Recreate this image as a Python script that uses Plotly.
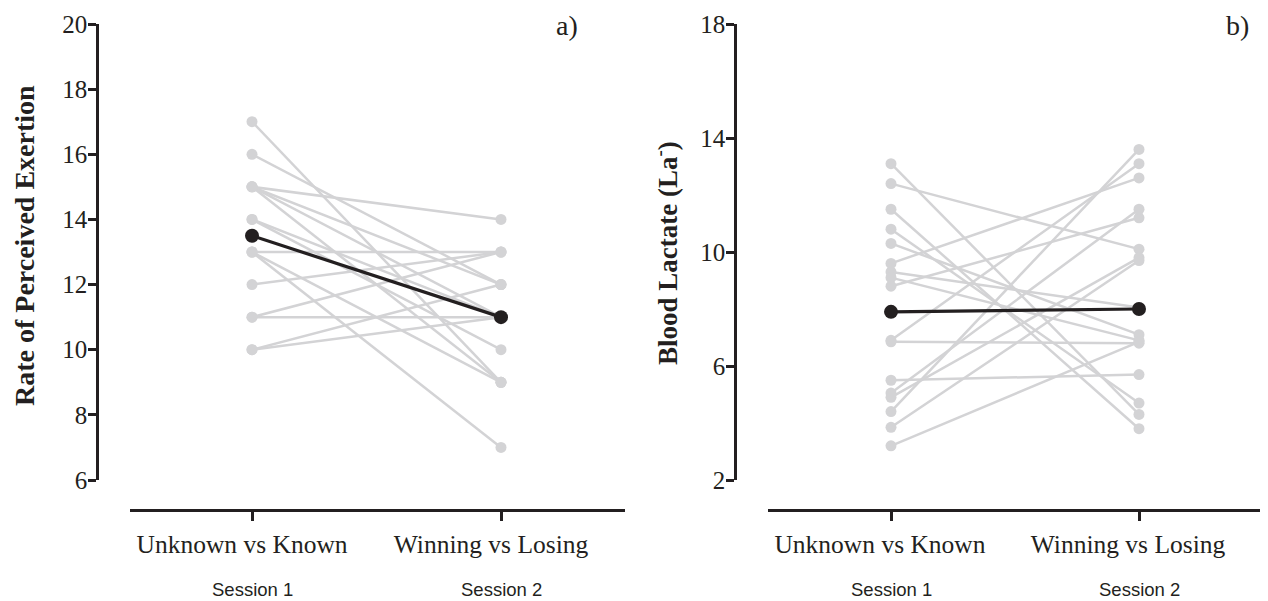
import plotly.graph_objects as go

# ---------------- data ----------------
categories = ["Unknown vs Known", "Winning vs Losing"]
sessions = ["Session 1", "Session 2"]

# panel a) Rate of Perceived Exertion, one entry per participant
rpe_s1 = [17, 16, 15, 15, 15, 15, 14, 14, 13, 13, 13, 12, 11, 11, 10, 10]
rpe_s2 = [9, 12, 14, 12, 11, 9, 11, 10, 13, 9, 7, 13, 11, 13, 12, 11]
rpe_mean = [13.5, 11.0]

# panel b) Blood lactate, one entry per participant
la_s1 = [13.1, 12.4, 11.5, 10.8, 10.3, 9.6, 9.3, 9.1, 8.8, 6.9, 6.85, 5.5, 5.05, 4.9, 4.4, 3.85, 3.2]
la_s2 = [4.3, 10.1, 3.8, 4.7, 7.1, 12.6, 8.05, 6.9, 11.2, 13.1, 6.8, 5.7, 11.5, 9.8, 13.6, 9.7, 6.85]
la_mean = [7.9, 8.0]

rpe_ticks = [6, 8, 10, 12, 14, 16, 18, 20]
la_ticks = [2, 6, 10, 14, 18]

# ---------------- style ----------------
OFF = 8                      # page body margin of the browser
W, H = 1268 - OFF, 601 - OFF
DARK = "#231f20"
GREY = "#d3d3d5"
SERIF = "Liberation Serif"
SANS = "Liberation Sans"


def px_x(p):
    return (p - OFF) / W


def px_y(p):
    return 1 - (p - OFF) / H


def paired(s1, s2):
    xs, ys = [], []
    for a, b in zip(s1, s2):
        xs += [0, 1, None]
        ys += [a, b, None]
    return xs, ys


fig = go.Figure()

for s1, s2, mean, xa, ya in [
    (rpe_s1, rpe_s2, rpe_mean, "x", "y"),
    (la_s1, la_s2, la_mean, "x2", "y2"),
]:
    xs, ys = paired(s1, s2)
    fig.add_trace(go.Scatter(
        x=xs, y=ys, mode="lines+markers", xaxis=xa, yaxis=ya,
        line=dict(color=GREY, width=2.5),
        marker=dict(color=GREY, size=11),
        showlegend=False, hoverinfo="skip", cliponaxis=False,
    ))
    fig.add_trace(go.Scatter(
        x=[0, 1], y=mean, mode="lines+markers", xaxis=xa, yaxis=ya,
        line=dict(color=DARK, width=3.2),
        marker=dict(color=DARK, size=14),
        showlegend=False, cliponaxis=False,
    ))

axis_common = dict(
    showline=True, linecolor=DARK, linewidth=2.5,
    ticks="outside", tickcolor=DARK, tickwidth=2.5,
    showgrid=False, zeroline=False, automargin=False,
)

xfont = dict(family=SERIF, size=25.5, color=DARK)
yfont = dict(family=SERIF, size=25, color=DARK)

fig.update_layout(
    width=W, height=H,
    margin=dict(l=0, r=0, t=0, b=0, pad=0, autoexpand=False),
    paper_bgcolor="white", plot_bgcolor="white",
    xaxis=dict(
        domain=[px_x(130), px_x(625)], anchor="free", position=px_y(510),
        range=[-0.49, 1.498], tickvals=[0, 1], ticktext=categories,
        ticklen=9, tickfont=xfont, ticklabelstandoff=2, ticklabelshift=-10,
        **axis_common,
    ),
    yaxis=dict(
        domain=[px_y(480), px_y(24)], anchor="free", position=px_x(97),
        range=[6, 20], tickvals=rpe_ticks, ticklen=8, tickfont=yfont,
        ticklabelstandoff=-4, **axis_common,
    ),
    xaxis2=dict(
        domain=[px_x(768), px_x(1262)], anchor="free", position=px_y(510),
        range=[-0.496, 1.496], tickvals=[0, 1], ticktext=categories,
        ticklen=9, tickfont=xfont, ticklabelstandoff=2, ticklabelshift=-11,
        **axis_common,
    ),
    yaxis2=dict(
        domain=[px_y(480), px_y(24)], anchor="free", position=px_x(735),
        range=[2, 18], tickvals=la_ticks, ticklen=8, tickfont=yfont,
        ticklabelstandoff=-4, **axis_common,
    ),
)

annotations = [
    dict(text="Rate of Perceived Exertion", x=px_x(24), y=px_y(246), xref="paper", yref="paper",
         textangle=-90, showarrow=False, xanchor="center", yanchor="middle",
         font=dict(family=SERIF, size=28, color=DARK, weight="bold")),
    dict(text="Blood Lactate (La<sup>-</sup>)", x=px_x(666), y=px_y(253), xref="paper", yref="paper",
         textangle=-90, showarrow=False, xanchor="center", yanchor="middle",
         font=dict(family=SERIF, size=27, color=DARK, weight="bold")),
    dict(text="a)", x=px_x(567), y=px_y(25), xref="paper", yref="paper",
         showarrow=False, xanchor="center", yanchor="middle",
         font=dict(family=SERIF, size=28, color=DARK)),
    dict(text="b)", x=px_x(1237), y=px_y(25), xref="paper", yref="paper",
         showarrow=False, xanchor="center", yanchor="middle",
         font=dict(family=SERIF, size=28, color=DARK)),
]
for xa in ["x", "x2"]:
    for i, s in enumerate(sessions):
        annotations.append(dict(
            text=s, x=i, y=px_y(589), xref=xa, yref="paper",
            showarrow=False, xanchor="center", yanchor="middle",
            font=dict(family=SANS, size=18.5, color=DARK)))
fig.update_layout(annotations=annotations)

fig.write_html("out.html")
